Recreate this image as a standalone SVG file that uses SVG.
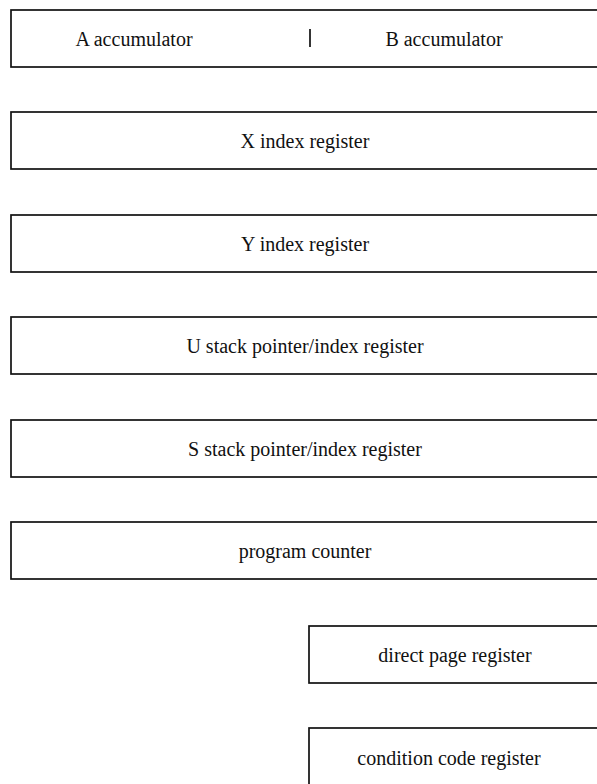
<svg xmlns="http://www.w3.org/2000/svg" width="597" height="784" viewBox="0 0 597 784">
<style>
.box{fill:none;stroke:#111;stroke-width:1.7}
.t{font-family:"Liberation Serif","Times New Roman",serif;font-size:20px;fill:#111;text-anchor:middle}
</style>
<rect x="0" y="0" width="597" height="784" fill="#fff"/>
<g id="ab-accumulator">
<rect class="box" x="11" y="10" width="600" height="57"/>
<line x1="310" y1="29" x2="310" y2="47" stroke="#111" stroke-width="1.7"/>
<text class="t" x="134" y="46">A accumulator</text>
<text class="t" x="444" y="46">B accumulator</text>
</g>
<g id="x-index">
<rect class="box" x="11" y="112" width="600" height="57"/>
<text class="t" x="305" y="148">X index register</text>
</g>
<g id="y-index">
<rect class="box" x="11" y="215" width="600" height="57"/>
<text class="t" x="305" y="251">Y index register</text>
</g>
<g id="u-stack">
<rect class="box" x="11" y="317" width="600" height="57"/>
<text class="t" x="305" y="353">U stack pointer/index register</text>
</g>
<g id="s-stack">
<rect class="box" x="11" y="420" width="600" height="57"/>
<text class="t" x="305" y="456">S stack pointer/index register</text>
</g>
<g id="program-counter">
<rect class="box" x="11" y="522" width="600" height="57"/>
<text class="t" x="305" y="558">program counter</text>
</g>
<g id="direct-page">
<rect class="box" x="309" y="626" width="300" height="57"/>
<text class="t" x="455" y="662">direct page register</text>
</g>
<g id="condition-code">
<rect class="box" x="309" y="728" width="300" height="70"/>
<text class="t" x="449" y="765">condition code register</text>
</g>
<g id="connectors"/>
</svg>
